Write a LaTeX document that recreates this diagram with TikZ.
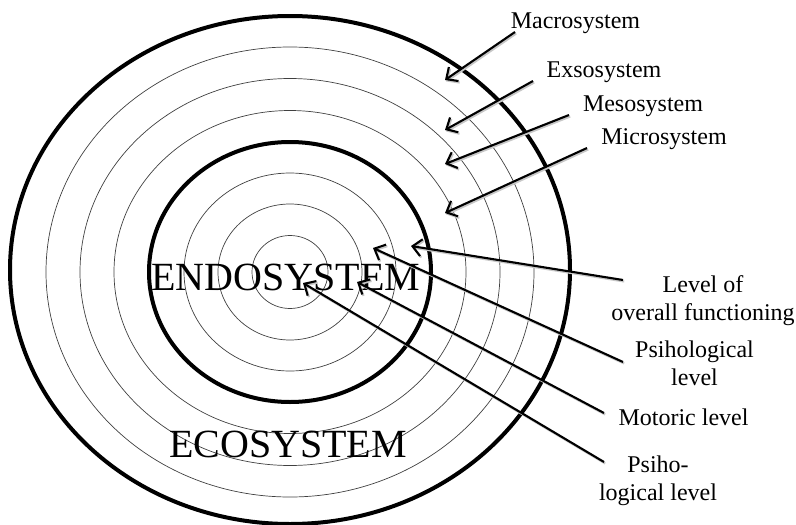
\documentclass[tikz,border=0pt]{standalone}
\usepackage{fontspec}
\setmainfont{Liberation Serif}
\usetikzlibrary{arrows.meta}
\begin{document}
\begin{tikzpicture}[x=1pt, y=-1pt,
  ring/.style={line width=0.7pt, draw=black!75},
  bound/.style={line width=4pt, draw=black},
  label/.style={inner sep=0pt, anchor=base, font=\fontsize{24}{27.5}\selectfont, align=center},
  title/.style={inner sep=0pt, anchor=base, font=\fontsize{40}{44}\selectfont},
  pointer/.style={line width=2.1pt, draw=black,
    -{Straight Barb[length=9pt, width=17pt, line width=2.1pt]},
    preaction={draw=black!22, line width=2.1pt, transform canvas={shift={(1.2pt,-1.5pt)}}}}
]
\useasboundingbox (0,0) rectangle (796,525);

% concentric layers
\coordinate (c) at (290,272);
\foreach \rx/\ry in {38/36.5, 72/68, 106/99, 176/161.5, 210/193.5, 244/225}
  \draw[ring] (c) ellipse [x radius=\rx pt, y radius=\ry pt];
\draw[bound] (c) ellipse [x radius=141pt, y radius=130pt];
\draw[bound] (290,270) ellipse [x radius=280pt, y radius=254pt];

% main titles
\node[title] (endo) at (286,290) {ENDOSYSTEM};
\node[title] (eco) at (288,457) {ECOSYSTEM};

% outer system labels
\node[label] (macro) at (575.5,28) {Macrosystem};
\node[label] (exso) at (604,77) {Exsosystem};
\node[label] (meso) at (643,111) {Mesosystem};
\node[label] (micro) at (664,144) {Microsystem};

% inner level labels (base anchor sits on the last line)
\node[label] (overall) at (703,320) {Level of\\overall functioning};
\node[label] (psych) at (694.5,385) {Psihological\\level};
\node[label] (motor) at (683.5,425) {Motoric level};
\node[label] (psych2) at (658,500) {Psiho-\\logical level};

% arrow tails and tips
\coordinate (macroT) at (515,32);   \coordinate (macroH) at (445,80);
\coordinate (exsoT) at (533,81);    \coordinate (exsoH) at (445,130);
\coordinate (mesoT) at (569,115);   \coordinate (mesoH) at (445,164);
\coordinate (microT) at (587,148);  \coordinate (microH) at (445,213);
\coordinate (overallT) at (623,280);\coordinate (overallH) at (411,246);
\coordinate (psychT) at (623,362);  \coordinate (psychH) at (373,248);
\coordinate (motorT) at (604,413);  \coordinate (motorH) at (357,282);
\coordinate (psych2T) at (604,462); \coordinate (psych2H) at (303,283);

\foreach \n in {macro, exso, meso, micro, overall, psych, motor, psych2}
  \draw[pointer] (\n T) -- (\n H);
\end{tikzpicture}
\end{document}
